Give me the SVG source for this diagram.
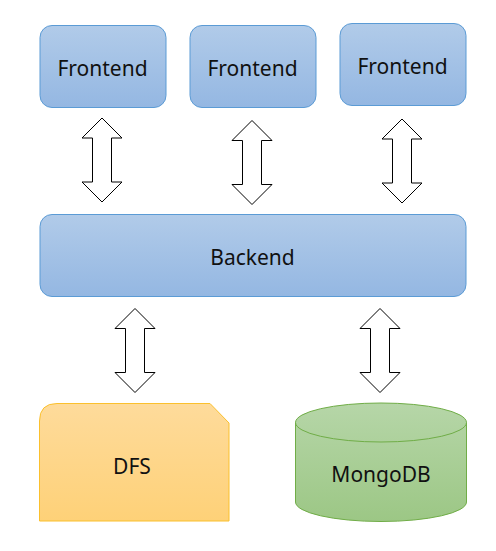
<svg xmlns="http://www.w3.org/2000/svg" width="496" height="551" viewBox="0 0 496 551">
<defs>
<linearGradient id="gBlue" x1="0" y1="0" x2="0" y2="1"><stop offset="0" stop-color="#b1cbe9"/><stop offset="1" stop-color="#94b7e2"/></linearGradient>
<linearGradient id="gOrange" x1="0" y1="0" x2="0" y2="1"><stop offset="0" stop-color="#fedb9b"/><stop offset="1" stop-color="#fed178"/></linearGradient>
<linearGradient id="gGreen" x1="0" y1="0" x2="0" y2="1"><stop offset="0" stop-color="#b6d6a8"/><stop offset="1" stop-color="#9cc785"/></linearGradient>
<path id="arr" d="M0,0 L20,20 L9.5,20 L9.5,64 L20,64 L0,84 L-20,64 L-9.5,64 L-9.5,20 L-20,20 Z"/>
</defs>
<style>
.blue{fill:url(#gBlue);stroke:#5b9bd5;stroke-width:1}
.lbl{font-family:"Noto Sans","Open Sans",sans-serif;font-size:21px;fill:#111;text-anchor:middle}
.arrow{fill:#fff;stroke:#000;stroke-width:1}
</style>
<rect width="496" height="551" fill="#fff"/>
<g id="connectors">
<use href="#arr" class="arrow" x="102" y="118"/>
<use href="#arr" class="arrow" x="252" y="120.5"/>
<use href="#arr" class="arrow" x="402" y="119"/>
<use href="#arr" class="arrow" x="135" y="308.5"/>
<use href="#arr" class="arrow" x="380" y="308.5"/>
</g>
<g id="frontend1">
<rect class="blue" x="40" y="25.5" width="126" height="82" rx="12"/>
<text class="lbl" x="102.5" y="76">Frontend</text>
</g>
<g id="frontend2">
<rect class="blue" x="190" y="25.5" width="126" height="82" rx="12"/>
<text class="lbl" x="252.5" y="76">Frontend</text>
</g>
<g id="frontend3">
<rect class="blue" x="340" y="23.5" width="126" height="82" rx="12"/>
<text class="lbl" x="402.5" y="74">Frontend</text>
</g>
<g id="backend">
<rect class="blue" x="40" y="214.5" width="426" height="82" rx="12"/>
<text class="lbl" x="252.5" y="265">Backend</text>
</g>
<g id="dfs">
<path d="M39.5,521 L39.5,421 Q39.5,403.5 57,403.5 L210,403.5 L229,423 L229,521 Z" fill="url(#gOrange)" stroke="#fbc02d" stroke-width="1"/>
<text class="lbl" x="132" y="474">DFS</text>
</g>
<g id="mongodb">
<path d="M295.5,422.5 L295.5,502 A85.5,19.5 0 0 0 466.5,502 L466.5,422.5 A85.5,19.5 0 0 0 295.5,422.5 Z" fill="url(#gGreen)" stroke="#70ad47" stroke-width="1"/>
<path d="M295.5,422.5 A85.5,19.5 0 0 0 466.5,422.5" fill="none" stroke="#70ad47" stroke-width="1"/>
<text class="lbl" x="381" y="482">MongoDB</text>
</g>
</svg>
